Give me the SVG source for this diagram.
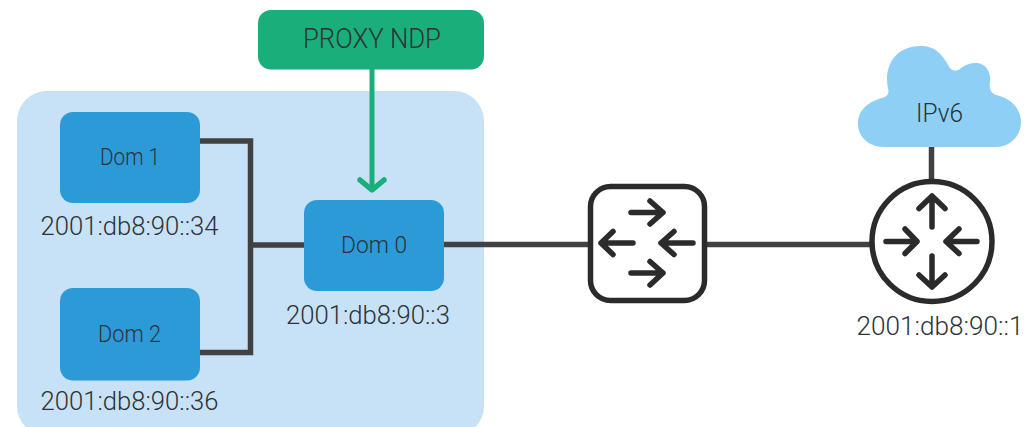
<svg xmlns="http://www.w3.org/2000/svg" width="1027" height="427" viewBox="0 0 1027 427">
<defs>
<style>
text{font-family:Roboto,"Open Sans","Liberation Sans",sans-serif;font-weight:300;fill:#2b3338;text-anchor:middle}
.dom{fill:#2d9ad8}
.lbl{font-size:25px}
.nm{font-size:23.500px}
.wire{fill:none;stroke:#414042;stroke-width:5.5}
.ic{fill:none;stroke:#2b2b2b;stroke-width:5.5;stroke-linecap:round;stroke-linejoin:round}
.frame{fill:#fff;stroke:#2b2b2b;stroke-width:5.5}
</style>
</defs>
<rect id="panel" x="17" y="91" width="467" height="345" rx="30" fill="#c7e1f6"/>
<g id="connectors">
<path class="wire" d="M200 141H250.500V352.500H200"/>
<path class="wire" d="M250 245H304"/>
<path class="wire" d="M444 244.500H590"/>
<path class="wire" d="M704 244.500H872"/>
<path class="wire" d="M931.500 147V182"/>
<path d="M372 69V189" fill="none" stroke="#1aae7a" stroke-width="5"/>
<path d="M360 180L372 190L384 180" fill="none" stroke="#1aae7a" stroke-width="5.500" stroke-linecap="round" stroke-linejoin="round"/>
</g>
<g id="proxy">
<rect x="258" y="10" width="226" height="59.500" rx="13" fill="#1aae7a"/>
<text x="372" y="48" font-size="28" textLength="138" lengthAdjust="spacingAndGlyphs">PROXY NDP</text>
</g>
<g id="dom1">
<rect class="dom" x="60" y="112" width="140" height="91" rx="13"/>
<text class="nm" x="130" y="165" textLength="60" lengthAdjust="spacingAndGlyphs">Dom 1</text>
<text class="lbl" x="129.500" y="235" textLength="178" lengthAdjust="spacingAndGlyphs">2001:db8:90::34</text>
</g>
<g id="dom2">
<rect class="dom" x="60" y="288" width="140" height="92.500" rx="13"/>
<text class="nm" x="129.500" y="342" textLength="63" lengthAdjust="spacingAndGlyphs">Dom 2</text>
<text class="lbl" x="129.500" y="410" textLength="178" lengthAdjust="spacingAndGlyphs">2001:db8:90::36</text>
</g>
<g id="dom0">
<rect class="dom" x="304" y="200" width="140" height="91" rx="13"/>
<text class="nm" x="374" y="253" textLength="66" lengthAdjust="spacingAndGlyphs">Dom 0</text>
<text class="lbl" x="368" y="324" textLength="164" lengthAdjust="spacingAndGlyphs">2001:db8:90::3</text>
</g>
<g id="switch">
<rect class="frame" x="590.500" y="186.500" width="114" height="114" rx="20"/>
<path class="ic" d="M631 212.500H663M650 201L663 212.500L650 224"/>
<path class="ic" d="M633 243H601M613 231.500L601 243L613 254.500"/>
<path class="ic" d="M693 243H661M674 231.500L661 243L674 254.500"/>
<path class="ic" d="M631 273H663M650 261.500L663 273L650 285"/>
</g>
<g id="cloud">
<path d="M884 147C868 147 858 136 858 124C858 110 868 102 882 98C889 96 889 92 888 88C884 70 892 46 921 46C935 46 942 54 948 65C951 71 955 72 960 69C966 64 971 63 977 63C986 64 991 72 990 81C989 87 990 93 996 95C1011 98 1021 109 1021 122C1021 136 1010 147 996 147Z" fill="#8dcff5"/>
<text x="939.500" y="122" font-size="26" textLength="47" lengthAdjust="spacingAndGlyphs">IPv6</text>
</g>
<g id="router">
<circle class="frame" cx="932" cy="241.500" r="60"/>
<path class="ic" d="M932 227V196M919 208.500L932 196L945 208.500"/>
<path class="ic" d="M932 256V287M919 275L932 287L945 275"/>
<path class="ic" d="M886 241.500H917M905 229L917 241.500L905 253.500"/>
<path class="ic" d="M977 241.500H946M959 229L946 241.500L959 253.500"/>
<text class="lbl" x="940" y="335" textLength="167" lengthAdjust="spacingAndGlyphs">2001:db8:90::1</text>
</g>
</svg>
